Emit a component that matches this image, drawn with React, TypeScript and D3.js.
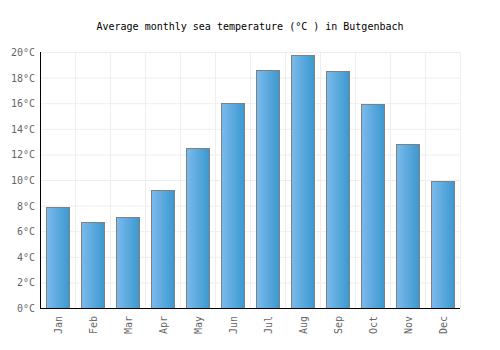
import React from "react";
import * as d3 from "d3";

const months = ["Jan","Feb","Mar","Apr","May","Jun","Jul","Aug","Sep","Oct","Nov","Dec"];
const temps = [7.9, 6.7, 7.1, 9.2, 12.5, 16.0, 18.6, 19.8, 18.5, 15.9, 12.8, 9.9];
const yTicks = [0, 2, 4, 6, 8, 10, 12, 14, 16, 18, 20];
const title = "Average monthly sea temperature (°C ) in Butgenbach";

export default function App() {
  const W = 500, H = 350;
  const left = 40, right = 460, top = 52, bottom = 308;
  const x = d3.scaleBand().domain(months).range([left, right]).paddingInner(0.33).paddingOuter(0.165);
  const xg = d3.scaleBand().domain(months).range([left, right]);
  const y = d3.scaleLinear().domain([0, 20]).range([bottom, top]);
  const font = "'DejaVu Sans Mono', monospace";
  return (
    <svg width={W} height={H} style={{ position: "absolute", left: 0, top: 0 }}>
      <defs>
        <linearGradient id="bg" x1="0" x2="1" y1="0" y2="0">
          <stop offset="0" stopColor="#7bbaec" />
          <stop offset="1" stopColor="#3b98cf" />
        </linearGradient>
      </defs>
      <rect width={W} height={H} fill="#fff" />
      <text x={250} y={30} textAnchor="middle" fontFamily={font} fontSize={10} fill="#000">{title}</text>
      {yTicks.map(t => (
        <line key={"gy" + t} x1={left} x2={right} y1={y(t) + 0.5} y2={y(t) + 0.5} stroke="#eeeeee" />
      ))}
      {months.map(m => (
        <line key={"gx" + m} x1={(xg(m) as number) + xg.bandwidth() + 0.5} x2={(xg(m) as number) + xg.bandwidth() + 0.5} y1={top} y2={bottom} stroke="#eeeeee" />
      ))}
      {months.map((m, i) => (
        <rect key={m} x={Math.round(x(m) as number) + 0.5} y={Math.round(y(temps[i])) + 0.5}
          width={Math.round(x.bandwidth())} height={bottom - Math.round(y(temps[i]))}
          fill="url(#bg)" stroke="#808080" strokeWidth={1} />
      ))}
      <line x1={left + 0.5} x2={left + 0.5} y1={top} y2={bottom} stroke="#000" />
      <line x1={left} x2={right} y1={bottom + 0.5} y2={bottom + 0.5} stroke="#000" />
      {yTicks.map(t => (
        <text key={"ty" + t} x={35} y={y(t) + 4} textAnchor="end" fontFamily={font} fontSize={10} fill="#666">{t}°C</text>
      ))}
      {months.map(m => {
        const cx = (xg(m) as number) + xg.bandwidth() / 2 + 4;
        return (
          <text key={"tx" + m} transform={`translate(${cx},${316}) rotate(-90)`} textAnchor="end"
            fontFamily={font} fontSize={10} fill="#666">{m}</text>
        );
      })}
    </svg>
  );
}
